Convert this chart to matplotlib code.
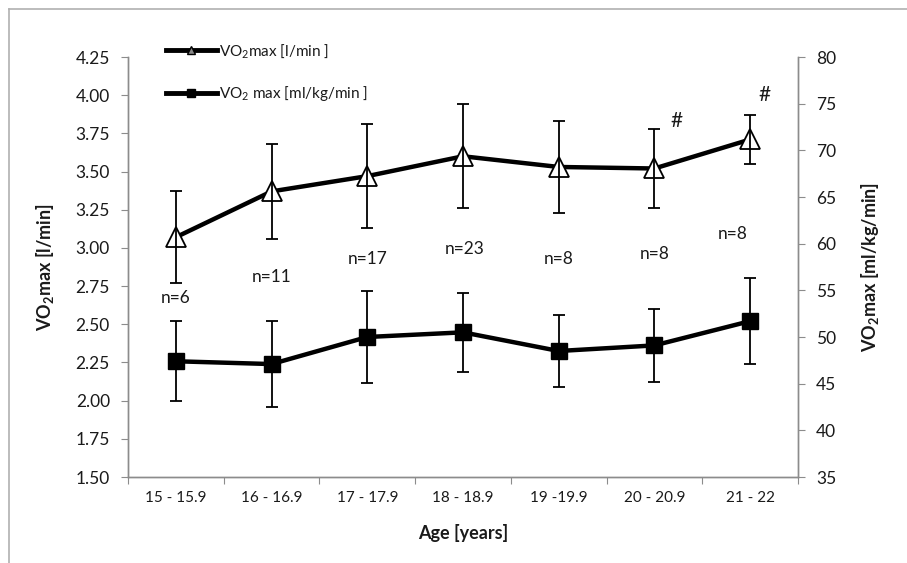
import matplotlib
matplotlib.use("Agg")
import matplotlib.pyplot as plt
from matplotlib.lines import Line2D
import numpy as np

# ---- data ----
age_groups = ["15 - 15.9", "16 - 16.9", "17 - 17.9", "18 - 18.9", "19 -19.9", "20 - 20.9", "21 - 22"]
vo2_abs = [3.07, 3.37, 3.47, 3.60, 3.53, 3.52, 3.71]          # l/min (left axis)
vo2_abs_sd = [0.30, 0.31, 0.34, 0.34, 0.30, 0.26, 0.16]
vo2_rel = [47.4, 47.1, 50.0, 50.5, 48.5, 49.1, 51.7]          # ml/kg/min (right axis)
vo2_rel_sd = [4.3, 4.6, 4.9, 4.2, 3.9, 3.9, 4.6]
n_labels = ["n=6", "n=11", "n=17", "n=23", "n=8", "n=8", "n=8"]
hash_groups = [5, 6]

# ---- layout (label placement) ----
n_label_y = [2.67, 2.81, 2.93, 2.99, 2.93, 2.96, 3.09]
n_label_dx = [0, 0, 0, 0.02, 0, 0, -0.18]
hash_y = [3.83, 4.00]
hash_dx = [0.23, 0.15]

plt.rcParams['font.family'] = ['Lato', 'DejaVu Sans']
plt.rcParams['mathtext.fontset'] = 'custom'
plt.rcParams['mathtext.rm'] = 'Lato'
plt.rcParams['mathtext.bf'] = 'Lato:bold'
GRAY = '#8c8c8c'
TXT = '#1a1a1a'

fig = plt.figure(figsize=(9.07, 5.63), dpi=100)
ax = fig.add_axes([128/907, 1-477/563, (798-128)/907, (477-57)/563])
ax2 = ax.twinx()

x = np.arange(len(age_groups))

# left series: triangles
ax.plot(x, vo2_abs, color='black', lw=3.2, zorder=2, solid_capstyle='round')
ax.plot(x, vo2_abs, ls='none', marker='^', ms=15, mfc='white', mec='black', mew=1.3, zorder=3)
ax.errorbar(x, vo2_abs, yerr=vo2_abs_sd, fmt='none', ecolor='black', elinewidth=1.3,
            capsize=4.5, capthick=1.3, zorder=4)

# right series: squares
ax2.plot(x, vo2_rel, color='black', lw=3.2, zorder=2)
ax2.errorbar(x, vo2_rel, yerr=vo2_rel_sd, fmt='none', ecolor='black', elinewidth=1.3,
             capsize=4.5, capthick=1.3, zorder=3)
ax2.plot(x, vo2_rel, ls='none', marker='s', ms=12, mfc='black', mec='black', zorder=4)

ax.set_xlim(-0.5, len(age_groups) - 0.5)
ax.set_ylim(1.5, 4.25)
ax2.set_ylim(35, 80)
ax.set_yticks(np.arange(1.5, 4.26, 0.25))
ax.set_yticklabels([f"{v:.2f}" for v in np.arange(1.5, 4.26, 0.25)])
ax2.set_yticks(np.arange(35, 81, 5))

ax.set_xticks(np.arange(-0.5, len(age_groups), 1.0))
ax.set_xticklabels([])
ax.set_xticks(x, minor=True)
ax.set_xticklabels(age_groups, minor=True)
ax.tick_params(axis='x', which='major', length=5, color=GRAY, direction='out')
ax.tick_params(axis='x', which='minor', length=0, pad=10, labelsize=11, labelcolor=TXT)
ax.tick_params(axis='y', length=5, color=GRAY, labelsize=12.5, labelcolor=TXT, pad=8)
ax2.tick_params(axis='y', length=5, color=GRAY, labelsize=12.5, labelcolor=TXT, pad=8)

for a in (ax, ax2):
    a.spines['top'].set_visible(False)
    for s in ('left', 'right', 'bottom'):
        a.spines[s].set_color(GRAY)
        a.spines[s].set_linewidth(1.0)

ax.set_xlabel("Age [years]", fontsize=13, fontweight='bold', color=TXT, labelpad=14)
ax.set_ylabel(r"VO$_\mathbf{2}$max [l/min]", fontsize=13, fontweight='bold', color=TXT, labelpad=14)
ax2.set_ylabel(r"VO$_\mathbf{2}$max [ml/kg/min]", fontsize=13, fontweight='bold', color=TXT, labelpad=16)

for i, lab in enumerate(n_labels):
    ax.text(x[i] + n_label_dx[i], n_label_y[i], lab, ha='center', va='center',
            fontsize=12.5, color=TXT, zorder=5)
for j, g in enumerate(hash_groups):
    ax.text(g + hash_dx[j], hash_y[j], "#", ha='center', va='center', fontsize=15, color=TXT)

handles = [
    Line2D([0], [0], color='black', lw=3.5, marker='^', ms=6, mfc='#888888', mec='black'),
    Line2D([0], [0], color='black', lw=3.5, marker='s', ms=6, mfc='black', mec='black'),
]
labels = [r"VO$_2$max [l/min ]", r"VO$_2$ max [ml/kg/min ]"]
leg = ax.legend(handles, labels, loc='upper left', bbox_to_anchor=(160/907, 1-36/563),
                bbox_transform=fig.transFigure, frameon=False, fontsize=11,
                handlelength=3.3, handletextpad=0.15, labelspacing=1.55, borderaxespad=0)
for t in leg.get_texts():
    t.set_color(TXT)

# outer chart frame
fig.add_artist(Line2D([9/907, 9/907], [0, 1-9/563], transform=fig.transFigure, color='#b0b0b0', lw=1.2))
fig.add_artist(Line2D([9/907, 1], [1-9/563, 1-9/563], transform=fig.transFigure, color='#b0b0b0', lw=1.2))

fig.savefig("out.png", dpi=100, facecolor='white')
